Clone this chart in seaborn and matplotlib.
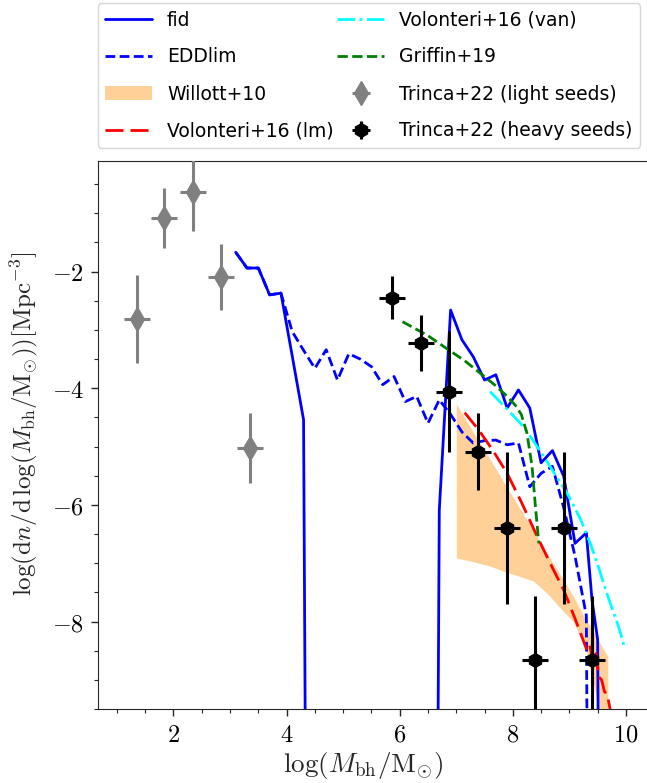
import numpy as np
import matplotlib
matplotlib.use('Agg')
import matplotlib.pyplot as plt
import seaborn as sns
from matplotlib.ticker import MultipleLocator, FuncFormatter

# fid model (solid blue); -40 marks bins that are empty (off the plot)
fid_x = [3.1, 3.3, 3.5, 3.7, 3.9, 4.1, 4.3, 4.5, 6.5, 6.7, 6.9, 7.1, 7.3, 7.5, 7.7, 7.9,
         8.1, 8.3, 8.5, 8.7, 8.9, 9.1, 9.3, 9.4, 9.5, 9.7]
fid_y = [-1.67, -1.94, -1.94, -2.40, -2.37, -3.45, -4.54, -40, -40, -6.09, -2.66, -3.17,
         -3.46, -3.86, -3.77, -4.34, -4.03, -4.34, -5.28, -5.07, -5.51, -6.66, -6.48,
         -7.63, -8.31, -40]

# EDDlim model (dashed blue)
edd_x = [3.1, 3.3, 3.5, 3.7, 3.9, 4.1, 4.3, 4.5, 4.7, 4.9, 5.1, 5.3, 5.5, 5.7, 5.9, 6.1,
         6.3, 6.5, 6.7, 6.9, 7.1, 7.3, 7.5, 7.7, 7.9, 8.1, 8.3, 8.5, 8.7, 8.9, 9.1, 9.3, 9.5]
edd_y = [-1.67, -1.94, -1.94, -2.40, -2.37, -3.03, -3.35, -3.66, -3.34, -3.86, -3.41,
         -3.50, -3.63, -3.94, -3.80, -4.23, -4.14, -4.60, -4.20, -4.45, -4.75, -4.94,
         -4.90, -4.89, -4.97, -4.94, -5.69, -5.46, -5.34, -6.05, -6.88, -7.90, -40]

# Willott+10 band
will_x = [7.0, 7.28, 7.6, 7.84, 8.1, 8.37, 8.6, 8.84, 9.07, 9.3, 9.5, 9.68]
will_hi = [-4.27, -4.72, -5.22, -5.61, -6.02, -6.45, -6.82, -7.20, -7.57, -7.98, -8.30, -8.60]
will_lo = [-6.91, -6.97, -7.05, -7.14, -7.22, -7.31, -7.51, -7.77, -8.00, -8.50, -9.40, -12.0]

# Volonteri+16 (lm)
vlm_x = [7.15, 7.4, 7.65, 7.9, 8.15, 8.43, 8.65, 8.9, 9.1, 9.31, 9.36, 9.42, 9.47,
         9.52, 9.57, 9.62, 9.67, 9.72, 9.78]
vlm_y = [-4.42, -4.72, -5.07, -5.46, -5.95, -6.54, -6.98, -7.46, -7.95, -8.49, -8.40,
         -8.70, -8.55, -8.95, -9.00, -9.20, -9.25, -9.50, -9.70]

# Volonteri+16 (van)
vvan_x = [7.6, 7.9, 8.19, 8.5, 8.96, 9.2, 9.37, 9.5, 9.66, 9.87, 9.95, 9.97]
vvan_y = [-4.06, -4.36, -4.66, -5.10, -5.80, -6.25, -6.66, -7.02, -7.51, -8.09, -8.35, -8.45]

# Griffin+19
grif_x = [6.05, 6.5, 6.86, 7.15, 7.42, 7.7, 7.9, 8.05, 8.15, 8.25, 8.34, 8.40, 8.46]
grif_y = [-2.86, -3.10, -3.34, -3.53, -3.74, -3.96, -4.14, -4.30, -4.45, -4.77, -5.34,
          -6.03, -6.66]

# Trinca+22 light seeds
light_x = [1.36, 1.84, 2.35, 2.84, 3.36]
light_y = [-2.81, -1.08, -0.63, -2.09, -5.02]
light_err = [0.75, 0.52, 0.67, 0.57, 0.60]

# Trinca+22 heavy seeds
heavy_x = [5.87, 6.37, 6.88, 7.39, 7.90, 8.40, 8.90, 9.40]
heavy_y = [-2.45, -3.23, -4.06, -5.09, -6.40, -8.66, -6.40, -8.66]
heavy_err = [0.37, 0.48, 1.04, 0.66, 1.30, 1.10, 1.30, 1.10]
bin_half = 0.23

sns.set_style('ticks')
plt.rcParams['mathtext.fontset'] = 'cm'
plt.rcParams['font.family'] = ['DejaVu Sans']
plt.rcParams['text.color'] = 'black'

fig = plt.figure(figsize=(6.47, 7.83), dpi=100)
W, H = 647, 783
ax = fig.add_axes([97.7 / W, 74 / H, 556.5 / W, 548.3 / H])

ax.fill_between(will_x, will_lo, will_hi, color='darkorange', alpha=0.4, lw=0,
                label='Willott+10')
sns.lineplot(x=fid_x, y=fid_y, color='blue', lw=2, ax=ax, label='fid')
sns.lineplot(x=edd_x, y=edd_y, color='blue', lw=2, ls=(0, (3.5, 1.6)), ax=ax, label='EDDlim')
sns.lineplot(x=vlm_x, y=vlm_y, color='red', lw=2, ls=(0, (6.5, 2.5)), ax=ax,
             label='Volonteri+16 (lm)')
sns.lineplot(x=vvan_x, y=vvan_y, color='cyan', lw=2, ls='-.', ax=ax,
             label='Volonteri+16 (van)')
sns.lineplot(x=grif_x, y=grif_y, color='green', lw=2, ls='--', ax=ax, label='Griffin+19')

ax.errorbar(light_x, light_y, xerr=bin_half, yerr=light_err, fmt='d', color='gray',
            ms=12, elinewidth=2.2, capsize=0, zorder=5, label='Trinca+22 (light seeds)')
ax.errorbar(heavy_x, heavy_y, xerr=bin_half, yerr=heavy_err, fmt='h', color='black',
            ms=10, elinewidth=2.2, capsize=0, zorder=5, label='Trinca+22 (heavy seeds)')

ax.set_xlim(0.66, 10.5)
ax.set_ylim(-9.5, -0.1)
ax.xaxis.set_major_locator(MultipleLocator(2))
ax.xaxis.set_minor_locator(MultipleLocator(0.5))
ax.yaxis.set_major_locator(MultipleLocator(2))
ax.yaxis.set_minor_locator(MultipleLocator(0.5))
fmt = FuncFormatter(lambda v, p: f'${v:g}$')
ax.xaxis.set_major_formatter(fmt)
ax.yaxis.set_major_formatter(fmt)
ax.tick_params(which='major', length=4.9, width=1, labelsize=17.5, pad=5,
               labelcolor='black')
ax.tick_params(which='minor', length=2.8, width=0.8)

ax.set_xlabel(r'$\log(M_{\rm bh}/{\rm M}_{\odot})$', fontsize=19.5)
ax.xaxis.set_label_coords((363.5 - 97.7) / 556.5, -0.075)
ax.set_ylabel(r'$\log(\mathrm{d}n/\mathrm{d}\,\log(M_{\rm bh}/{\rm M}_{\odot}))[\mathrm{Mpc}^{-3}]$',
              fontsize=18)
ax.yaxis.set_label_coords((40 - 97.7) / 556.5, (709 - 424) / 548.3)

handles, labels = ax.get_legend_handles_labels()
order = ['fid', 'EDDlim', 'Willott+10', 'Volonteri+16 (lm)', 'Volonteri+16 (van)',
         'Griffin+19', 'Trinca+22 (light seeds)', 'Trinca+22 (heavy seeds)']
hmap = dict(zip(labels, handles))
ax.legend([hmap[k] for k in order], order, ncol=2, loc='lower left',
          bbox_to_anchor=(0, 1 + 12.7 / 548.3), borderaxespad=0, fontsize=13.5,
          handlelength=2.5, handletextpad=0.8, columnspacing=0.2, labelspacing=0.96,
          fancybox=True)

fig.savefig('out.png', dpi=100)
